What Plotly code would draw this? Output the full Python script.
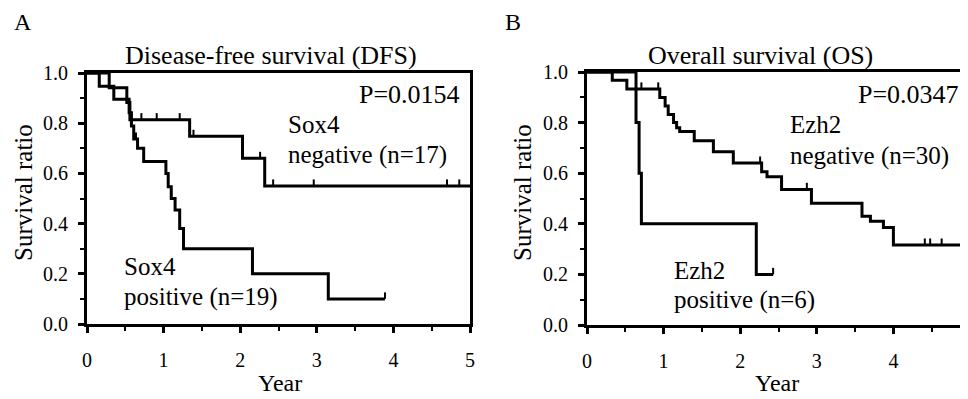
import plotly.graph_objects as go

# ---------------- data ----------------
# Panel A: Disease-free survival, Sox4
sox4_neg_t = [0, 0.29, 0.52, 0.56, 1.34, 2.03, 2.32, 5.0]
sox4_neg_s = [1.0, 0.941, 0.882, 0.814, 0.748, 0.66, 0.55, 0.55]
sox4_neg_cens_t = [0.71, 0.91, 1.21, 1.39, 2.26, 2.43, 2.96, 4.70, 4.86]
sox4_neg_cens_s = [0.814, 0.814, 0.814, 0.748, 0.66, 0.55, 0.55, 0.55, 0.55]

sox4_pos_t = [0, 0.16, 0.35, 0.55, 0.58, 0.61, 0.66, 0.74, 1.03, 1.06, 1.10,
              1.15, 1.21, 1.26, 2.16, 3.15, 3.89]
sox4_pos_s = [1.0, 0.947, 0.895, 0.842, 0.789, 0.737, 0.70, 0.647, 0.60, 0.547,
              0.50, 0.454, 0.38, 0.30, 0.20, 0.10, 0.10]
sox4_pos_cens_t = [0.64, 3.89]
sox4_pos_cens_s = [0.737, 0.10]

# Panel B: Overall survival, Ezh2
ezh2_neg_t = [0, 0.33, 0.52, 0.95, 1.02, 1.06, 1.13, 1.17, 1.21, 1.40, 1.65,
              1.91, 2.28, 2.35, 2.54, 2.93, 3.59, 3.70, 3.87, 4.00, 5.1]
ezh2_neg_s = [1.0, 0.967, 0.933, 0.899, 0.866, 0.832, 0.80, 0.78, 0.765, 0.728,
              0.685, 0.64, 0.606, 0.586, 0.536, 0.481, 0.43, 0.41, 0.385, 0.316, 0.316]
ezh2_neg_cens_t = [0.71, 0.93, 2.26, 2.87, 4.41, 4.48, 4.63]
ezh2_neg_cens_s = [0.933, 0.933, 0.64, 0.536, 0.316, 0.316, 0.316]

ezh2_pos_t = [0, 0.64, 0.68, 0.71, 2.21, 2.43]
ezh2_pos_s = [1.0, 0.80, 0.60, 0.40, 0.20, 0.20]
ezh2_pos_cens_t = [2.43]
ezh2_pos_cens_s = [0.20]

x_ticks = [0, 1, 2, 3, 4, 5]
y_ticks = [0.0, 0.2, 0.4, 0.6, 0.8, 1.0]

# ---------------- layout helpers ----------------
W, H = 968, 399
OFF = 8  # page body margin: figure starts 8px right/down of the window corner
FONT = "Liberation Serif"
TICK_H = 0.026  # censor tick height in survival units


def px(x):
    return (x - OFF) / W


def py(y):
    return 1 - (y - OFF) / H


def cens_xy(ts, ss):
    xs, ys = [], []
    for t, s in zip(ts, ss):
        xs += [t, t, None]
        ys += [s, s + TICK_H, None]
    return xs, ys


fig = go.Figure()


def add_panel(xa, ya, curves, cens):
    for t, s in curves:
        fig.add_trace(go.Scatter(x=t, y=s, mode="lines", line_shape="hv",
                                 line=dict(color="black", width=3),
                                 xaxis=xa, yaxis=ya, showlegend=False,
                                 hoverinfo="skip"))
    for t, s in cens:
        cx, cy = cens_xy(t, s)
        fig.add_trace(go.Scatter(x=cx, y=cy, mode="lines",
                                 line=dict(color="black", width=2),
                                 xaxis=xa, yaxis=ya, showlegend=False,
                                 hoverinfo="skip"))


add_panel("x", "y",
          [(sox4_neg_t, sox4_neg_s), (sox4_pos_t, sox4_pos_s)],
          [(sox4_neg_cens_t, sox4_neg_cens_s), (sox4_pos_cens_t, sox4_pos_cens_s)])
add_panel("x2", "y2",
          [(ezh2_neg_t, ezh2_neg_s), (ezh2_pos_t, ezh2_pos_s)],
          [(ezh2_neg_cens_t, ezh2_neg_cens_s), (ezh2_pos_cens_t, ezh2_pos_cens_s)])

tickfont = dict(family=FONT, size=20, color="black")


def xaxis_cfg(domain, rng, anchor):
    return dict(domain=domain, range=rng, anchor=anchor, tickvals=x_ticks,
                ticktext=[str(v) for v in x_ticks], ticks="outside", ticklen=6,
                tickwidth=3, tickcolor="black", showline=True, linewidth=3,
                linecolor="black", mirror=True, showgrid=False, zeroline=False,
                automargin=False, tickfont=tickfont, ticklabelstandoff=10,
                minor=dict(dtick=0.5, tick0=0, ticks="outside", ticklen=4,
                           tickwidth=2, tickcolor="black", showgrid=False))


def yaxis_cfg(domain, anchor, mirror):
    return dict(domain=domain, range=[0, 1.0], anchor=anchor, tickvals=y_ticks,
                ticktext=["%.1f" % v for v in y_ticks], ticks="outside", ticklen=6,
                tickwidth=3, tickcolor="black", showline=True, linewidth=3,
                linecolor="black", mirror=mirror, showgrid=False, zeroline=False,
                automargin=False, tickfont=tickfont, ticklabelstandoff=6,
                minor=dict(dtick=0.1, tick0=0, ticks="outside", ticklen=4,
                           tickwidth=2, tickcolor="black", showgrid=False))


B_RIGHT = 976  # panel B continues past the window's right edge
fig.update_layout(
    template="none",
    width=W, height=H, margin=dict(l=0, r=0, t=0, b=0, pad=0),
    paper_bgcolor="white", plot_bgcolor="white",
    xaxis=xaxis_cfg([px(87), px(470)], [0, 5], "y"),
    yaxis=yaxis_cfg([py(324), py(73)], "x", True),
    xaxis2=xaxis_cfg([px(587), px(B_RIGHT)], [0, (B_RIGHT - 587) / 76.6], "y2"),
    yaxis2=yaxis_cfg([py(325), py(72)], "x2", False),
)

annots = [
    ("A", 12, 22, 24, "left"),
    ("B", 503, 22, 24, "left"),
    ("Disease-free survival (DFS)", 271, 55, 26, "center"),
    ("Overall survival (OS)", 760, 55, 26, "center"),
    ("P=0.0154", 357, 94, 26, "left"),
    ("Sox4", 286, 124, 25, "left"),
    ("negative (n=17)", 286, 155, 25, "left"),
    ("Sox4", 122, 266, 25, "left"),
    ("positive (n=19)", 122, 297, 25, "left"),
    ("P=0.0347", 856, 94, 26, "left"),
    ("Ezh2", 788, 125, 25, "left"),
    ("negative (n=30)", 788, 156, 25, "left"),
    ("Ezh2", 672, 270, 25, "left"),
    ("positive (n=6)", 672, 300, 25, "left"),
    ("Year", 280, 383, 24, "center"),
    ("Year", 777, 383, 24, "center"),
]
for text, x, y, size, anchor in annots:
    fig.add_annotation(text=text, x=px(x), y=py(y), xref="paper", yref="paper",
                       xanchor=anchor, yanchor="middle", showarrow=False,
                       font=dict(family=FONT, size=size, color="black"))

for x in (24, 523):
    fig.add_annotation(text="Survival ratio", x=px(x), y=py(193), xref="paper",
                       yref="paper", xanchor="center", yanchor="middle",
                       showarrow=False, textangle=-90,
                       font=dict(family=FONT, size=25, color="black"))

fig.write_html("out.html")
